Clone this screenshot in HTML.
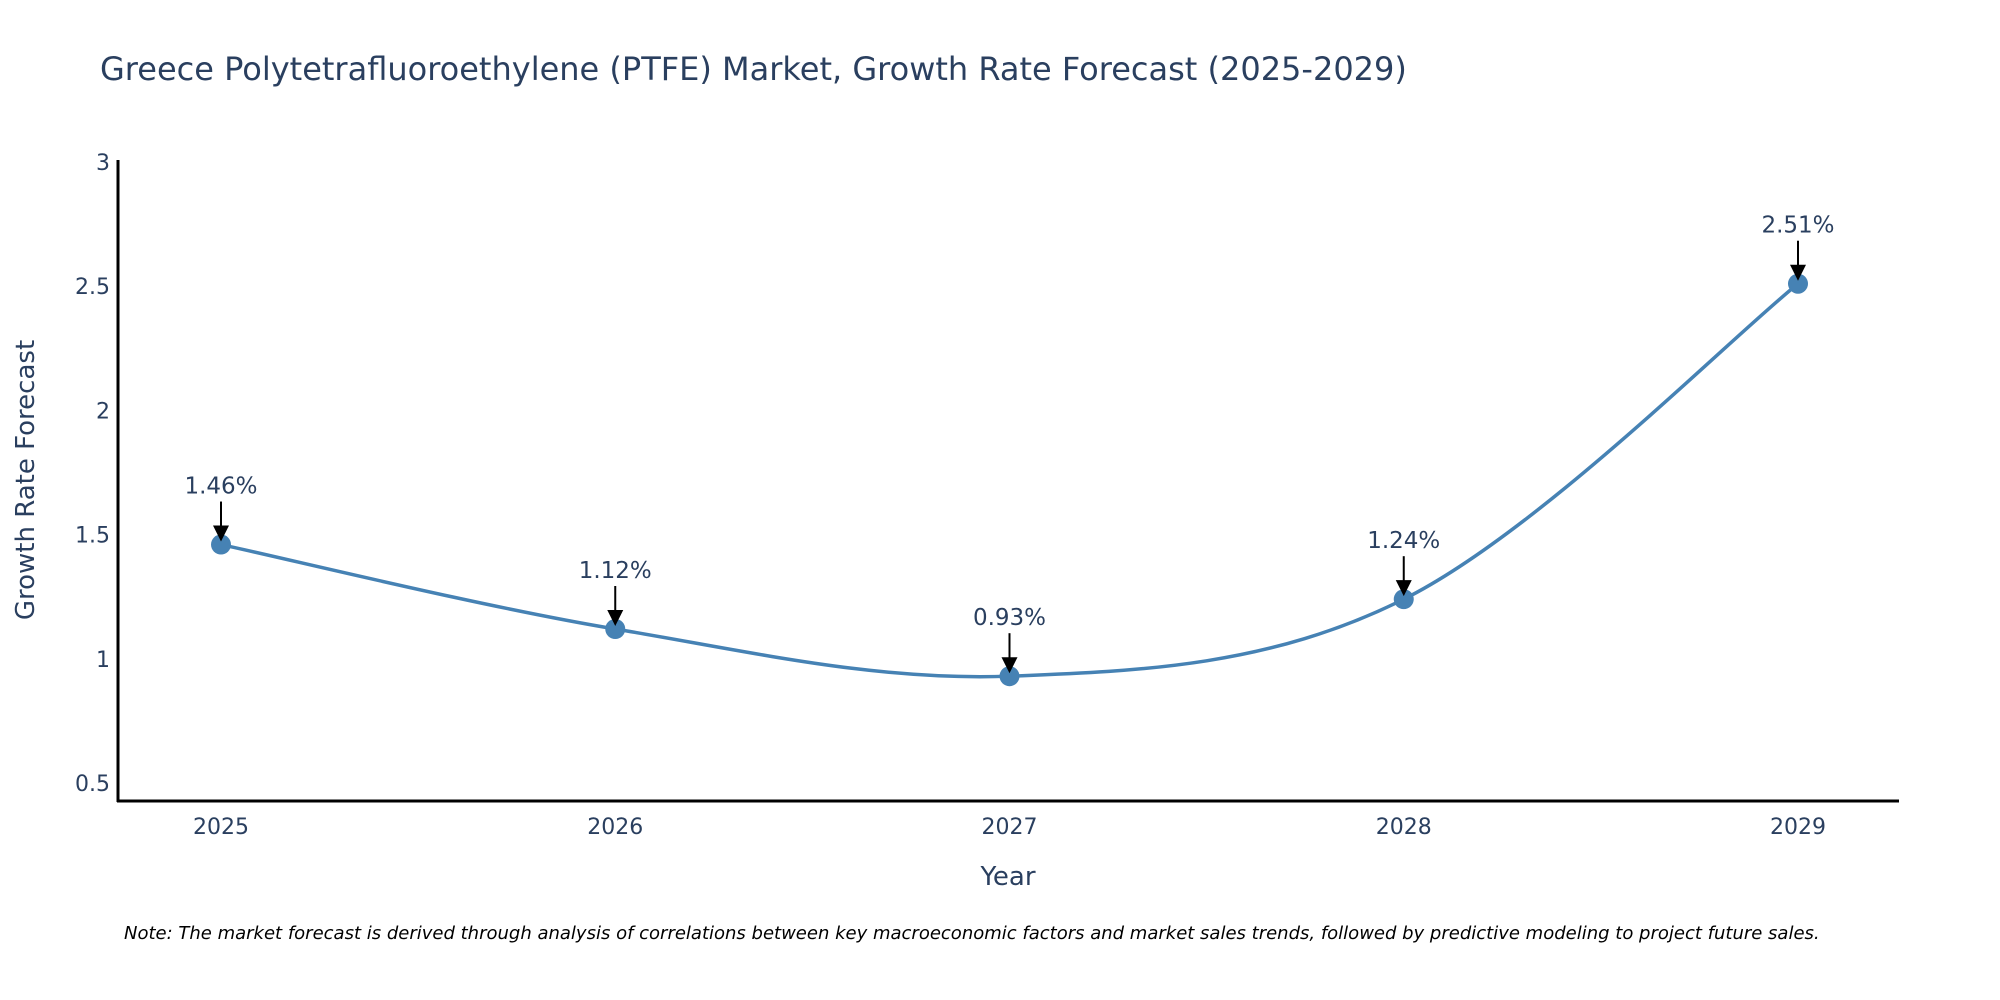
<!DOCTYPE html>
<html><head><meta charset="utf-8">
<style>
html,body{margin:0;padding:0;background:#fff;}
svg{display:block;font-family:"DejaVu Sans","Liberation Sans",sans-serif;}
</style></head>
<body>
<svg id="chart" width="2000" height="1000" viewBox="0 0 2000 1000" xmlns="http://www.w3.org/2000/svg">
  <rect width="2000" height="1000" fill="#fff"/>
  <text x="100" y="80" font-size="32" fill="#2a3f5f">Greece Polytetrafluoroethylene (PTFE) Market, Growth Rate Forecast (2025-2029)</text>
  <g id="yticks"></g>
  <g id="xticks"></g>
  <line x1="118" y1="160" x2="118" y2="802" stroke="#000" stroke-width="3"/>
  <line x1="117" y1="801" x2="1899" y2="801" stroke="#000" stroke-width="3"/>
  <text transform="translate(34,480) rotate(-90)" text-anchor="middle" font-size="26" fill="#2a3f5f">Growth Rate Forecast</text>
  <text x="1008" y="885" text-anchor="middle" font-size="26" fill="#2a3f5f">Year</text>
  <g id="series"></g>
  <g id="annos"></g>
  <text x="124" y="939" font-size="18" font-style="italic" fill="#000">Note: The market forecast is derived through analysis of correlations between key macroeconomic factors and market sales trends, followed by predictive modeling to project future sales.</text>
</svg>
<script>
const years = [2025, 2026, 2027, 2028, 2029];
const growth = [1.46, 1.12, 0.93, 1.24, 2.51];
const valueLabels = ["1.46%", "1.12%", "0.93%", "1.24%", "2.51%"];
const yTicks = [0.5, 1, 1.5, 2, 2.5, 3];
const yTickLabels = ["0.5", "1", "1.5", "2", "2.5", "3"];

const NS = "http://www.w3.org/2000/svg";
function xScale(yr){ return 221 + (yr - 2025) * 394.25; }
function yScale(v){ return 783 - (v - 0.5) * 248.4; }
function mk(tag, attrs, parent){
  const e = document.createElementNS(NS, tag);
  for (const k in attrs) e.setAttribute(k, attrs[k]);
  parent.appendChild(e); return e;
}
const yt = document.getElementById('yticks');
yTicks.forEach((v,i)=>{
  const t = mk('text',{x:110,y:yScale(v)+8,'text-anchor':'end','font-size':22,fill:'#2a3f5f'},yt);
  
  
  t.textContent = yTickLabels[i];
});
const xt = document.getElementById('xticks');
years.forEach(yr=>{
  const t = mk('text',{x:xScale(yr),y:834,'text-anchor':'middle','font-size':22,fill:'#2a3f5f'},xt);
  
  
  t.textContent = String(yr);
});
const pts = years.map((yr,i)=>[xScale(yr), yScale(growth[i])]);
let d = `M${pts[0][0]},${pts[0][1]}`;
const s = 0.17;
for (let i=0;i<pts.length-1;i++){
  const p0 = pts[Math.max(i-1,0)], p1 = pts[i], p2 = pts[i+1], p3 = pts[Math.min(i+2,pts.length-1)];
  const c1 = [p1[0]+(p2[0]-p0[0])*s, p1[1]+(p2[1]-p0[1])*s];
  const c2 = [p2[0]-(p3[0]-p1[0])*s, p2[1]-(p3[1]-p1[1])*s];
  d += ` C${c1[0]},${c1[1]} ${c2[0]},${c2[1]} ${p2[0]},${p2[1]}`;
}
const ser = document.getElementById('series');
const line = mk('path',{d:d,fill:'none',stroke:'#4682B4','stroke-width':3.5},ser);


pts.forEach((p,i)=>{
  const c = mk('circle',{cx:p[0],cy:p[1],r:10,fill:'#4682B4'},ser);
  
  
});
const an = document.getElementById('annos');
pts.forEach((p,i)=>{
  const l = mk('line',{x1:p[0],y1:p[1]-43,x2:p[0],y2:p[1]-18,stroke:'#000','stroke-width':2},an);
  
  
  const h = mk('polygon',{points:`${p[0]-8},${p[1]-19} ${p[0]+8},${p[1]-19} ${p[0]},${p[1]-3}`,fill:'#000'},an);
  
  
  const t = mk('text',{x:p[0],y:p[1]-51,'text-anchor':'middle','font-size':23,fill:'#2a3f5f'},an);
  
  
  t.textContent = valueLabels[i];
});
</script>
</body></html>
